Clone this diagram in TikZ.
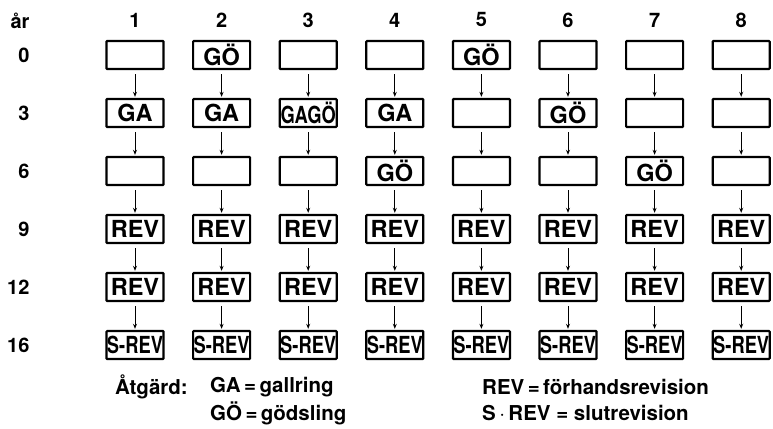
\documentclass[tikz,border=0pt]{standalone}
\usepackage{fontspec}
\setmainfont{TeX Gyre Heros}
\usepackage{graphicx}
\usepackage{tikz}
\usetikzlibrary{
    positioning,
    arrows.meta
}
\newcommand{\apretado}[1]{\scalebox{0.78}[1]{#1}}
\tikzset{
    >=Stealth,
    ruta/.style={
        draw,
        line width=2.2pt,
        rounded corners=0.8pt,
        minimum width=57pt,
        minimum height=28pt,
        inner sep=0pt,
        font=\fontsize{23.5}{23.5}\selectfont\bfseries
    },
    pil/.style={
        ->,
        line width=0.9pt,
        shorten <=4pt,
        shorten >=1.1pt
    },
    rubrik/.style={
        font=\fontsize{20}{20}\selectfont\bfseries
    },
    forklaring/.style={
        anchor=west,
        inner sep=0pt,
        font=\fontsize{20.5}{20.5}\selectfont\bfseries
    }
}

\begin{document}
\begin{tikzpicture}[
    x=1pt,
    y=-1pt,
    >={Stealth[length=5pt,width=4pt]}
]
    \useasboundingbox (0,0) rectangle (773,428);

    % Encabezados
    \node[rubrik, anchor=east] (ar) at (33,21) {år};
    \foreach \c in {1,...,8}
        \node[rubrik] (k\c) at ({135+86.6*(\c-1)},20) {\c};
    \foreach \r/\y in {0/55,3/113,6/171,9/229,12/287,16/345}
        \node[rubrik, anchor=east] (ar\r) at (33,\y) {\r};

    % Cajas
    \foreach \t [count=\c] in {{},GÖ,{},{},GÖ,{},{},{}}
        \node[ruta] (r0-c\c) at ({135+86.6*(\c-1)},55) {\t};
    \foreach \t [count=\c] in {GA,GA,\apretado{GAGÖ},GA,{},GÖ,{},{}}
        \node[ruta] (r3-c\c) at ({135+86.6*(\c-1)},113) {\t};
    \foreach \t [count=\c] in {{},{},{},GÖ,{},{},GÖ,{}}
        \node[ruta] (r6-c\c) at ({135+86.6*(\c-1)},171) {\t};
    \foreach \c in {1,...,8}
        \node[ruta] (r9-c\c) at ({135+86.6*(\c-1)},229) {REV};
    \foreach \c in {1,...,8}
        \node[ruta] (r12-c\c) at ({135+86.6*(\c-1)},287) {REV};
    \foreach \c in {1,...,8}
        \node[ruta] (r16-c\c) at ({135+86.6*(\c-1)},345) {\apretado{S-REV}};

    % Flechas
    \foreach \a/\b in {0/3,3/6,6/9,9/12,12/16}
        \foreach \c in {1,...,8}
            \draw[pil] (r\a-c\c.south) -- (r\b-c\c.north);

    % Leyenda
    \node[forklaring] (atg) at (115,387) {Åtgärd:};
    \node[forklaring] (ga)  at (210,387) {GA\,=\,gallring};
    \node[forklaring] (go)  at (210,413) {GÖ\,=\,gödsling};
    \node[forklaring] (rev) at (482,387) {REV\,=\,förhandsrevision};
    \node[forklaring] (srev) at (482,413) {S\,$\cdot$\,REV = slutrevision};

\end{tikzpicture}
\end{document}
